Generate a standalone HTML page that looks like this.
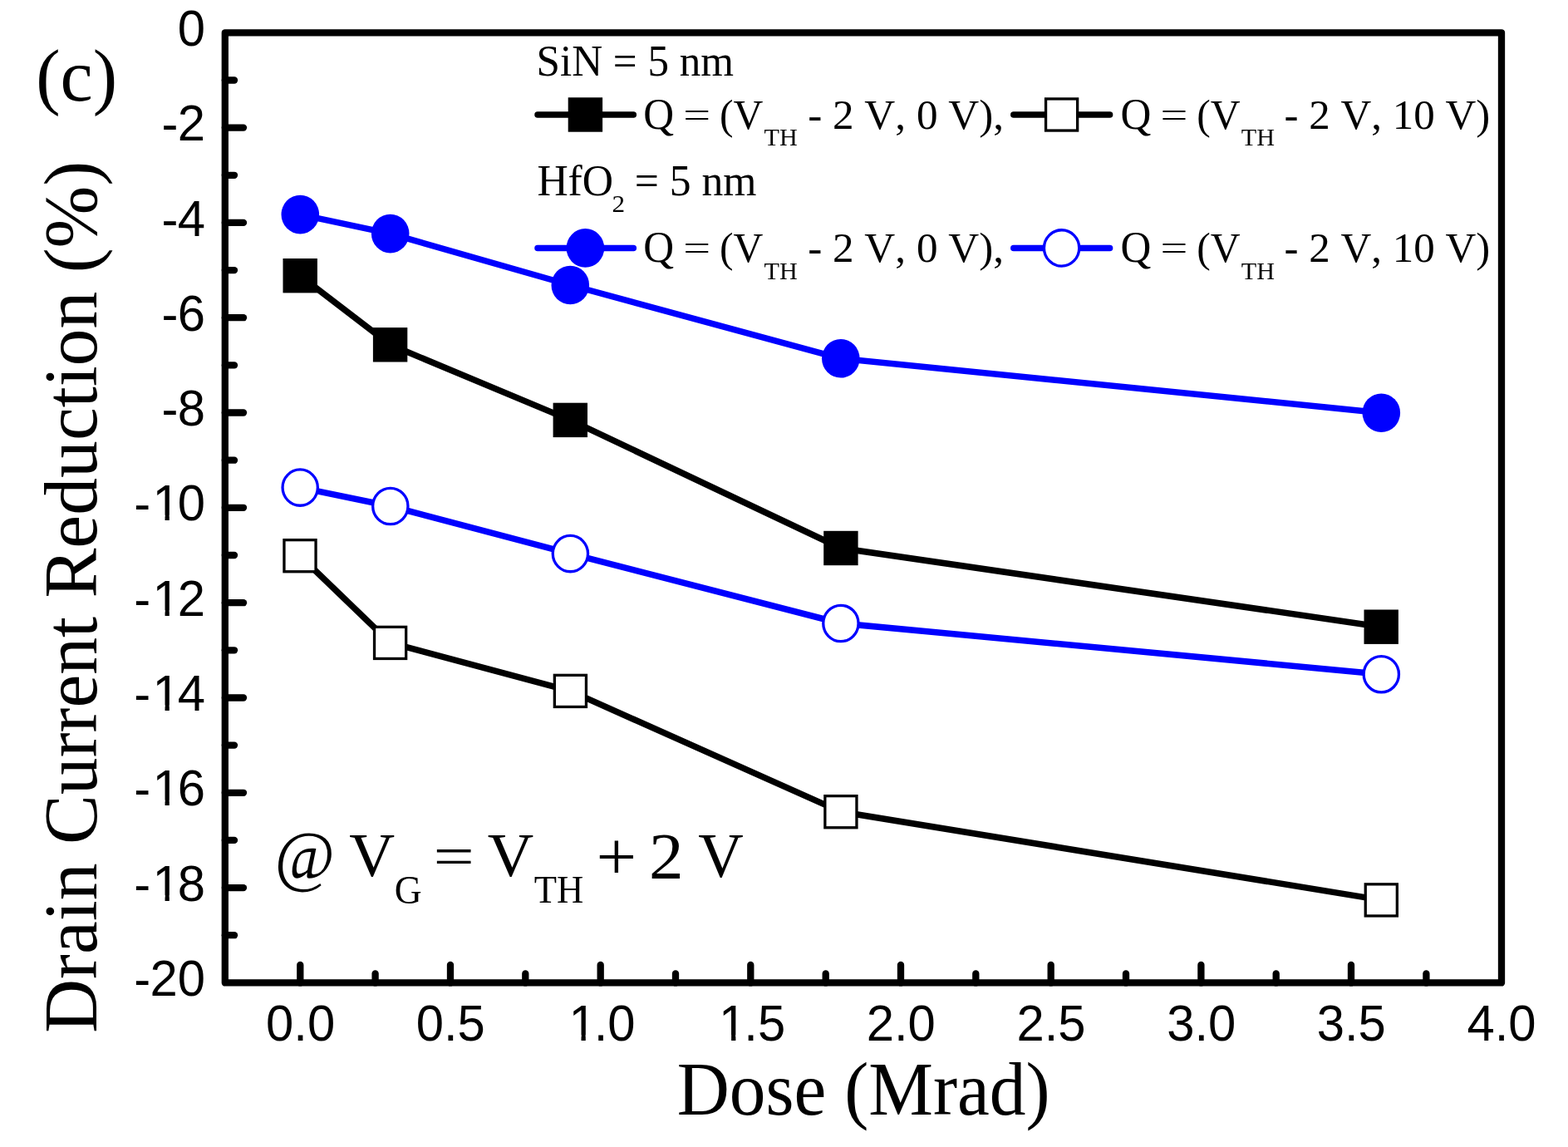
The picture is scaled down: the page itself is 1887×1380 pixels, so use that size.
<!DOCTYPE html>
<html lang="en"><head><meta charset="utf-8"><title>Drain Current Reduction vs Dose</title>
<style>html,body{margin:0;padding:0;background:#fff;}body{width:1887px;height:1380px;overflow:hidden;}svg{display:block;}.sans{font-family:"Liberation Sans",sans-serif;}.serif{font-family:"Liberation Serif",serif;}text{fill:#000;white-space:pre;font-kerning:none;}</style></head><body>
<svg width="1887" height="1380" viewBox="0 0 1887 1380" role="img" aria-label="Drain Current Reduction (%) versus Dose (Mrad)">
<rect x="0" y="0" width="1887" height="1380" fill="#ffffff"/>
<g>
<polyline fill="none" stroke="#000000" stroke-width="7.5" stroke-linejoin="round" points="361.2,331.7 469.6,414.8 686.3,505.4 1011.9,659.5 1662.2,754.2"/>
<rect x="340.5" y="311.0" width="41.4" height="41.4" fill="#000000"/>
<rect x="448.9" y="394.1" width="41.4" height="41.4" fill="#000000"/>
<rect x="665.6" y="484.7" width="41.4" height="41.4" fill="#000000"/>
<rect x="991.2" y="638.8" width="41.4" height="41.4" fill="#000000"/>
<rect x="1641.5" y="733.5" width="41.4" height="41.4" fill="#000000"/>
</g>
<g>
<polyline fill="none" stroke="#000000" stroke-width="7.5" stroke-linejoin="round" points="361.0,668.7 469.6,773.4 686.4,831.4 1011.9,976.7 1662.3,1082.9"/>
<rect x="341.95" y="649.65" width="38.10" height="38.10" fill="#fff" stroke="#000000" stroke-width="3.3"/>
<rect x="450.55" y="754.35" width="38.10" height="38.10" fill="#fff" stroke="#000000" stroke-width="3.3"/>
<rect x="667.35" y="812.35" width="38.10" height="38.10" fill="#fff" stroke="#000000" stroke-width="3.3"/>
<rect x="992.85" y="957.65" width="38.10" height="38.10" fill="#fff" stroke="#000000" stroke-width="3.3"/>
<rect x="1643.25" y="1063.85" width="38.10" height="38.10" fill="#fff" stroke="#000000" stroke-width="3.3"/>
</g>
<g>
<polyline fill="none" stroke="#0000ff" stroke-width="7.5" stroke-linejoin="round" points="361.3,258.1 469.7,281.1 686.3,343.0 1011.8,431.3 1662.3,496.7"/>
<ellipse cx="361.3" cy="258.1" rx="22.8" ry="23.3" fill="#0000ff"/>
<ellipse cx="469.7" cy="281.1" rx="22.8" ry="23.3" fill="#0000ff"/>
<ellipse cx="686.3" cy="343.0" rx="22.8" ry="23.3" fill="#0000ff"/>
<ellipse cx="1011.8" cy="431.3" rx="22.8" ry="23.3" fill="#0000ff"/>
<ellipse cx="1662.3" cy="496.7" rx="22.8" ry="23.3" fill="#0000ff"/>
</g>
<g>
<polyline fill="none" stroke="#0000ff" stroke-width="7.5" stroke-linejoin="round" points="361.2,586.6 469.8,609.0 686.4,666.1 1011.9,750.0 1662.3,811.2"/>
<ellipse cx="361.2" cy="586.6" rx="21.15" ry="21.65" fill="#fff" stroke="#0000ff" stroke-width="3.3"/>
<ellipse cx="469.8" cy="609.0" rx="21.15" ry="21.65" fill="#fff" stroke="#0000ff" stroke-width="3.3"/>
<ellipse cx="686.4" cy="666.1" rx="21.15" ry="21.65" fill="#fff" stroke="#0000ff" stroke-width="3.3"/>
<ellipse cx="1011.9" cy="750.0" rx="21.15" ry="21.65" fill="#fff" stroke="#0000ff" stroke-width="3.3"/>
<ellipse cx="1662.3" cy="811.2" rx="21.15" ry="21.65" fill="#fff" stroke="#0000ff" stroke-width="3.3"/>
</g>
<g stroke="#000" stroke-width="8.3" stroke-linecap="round" fill="none">
<rect x="270.8" y="39.3" width="1536.20" height="1143.15" stroke-linejoin="round"/>
<line x1="270.8" y1="96.5" x2="282.0" y2="96.5"/>
<line x1="270.8" y1="153.6" x2="293.0" y2="153.6"/>
<line x1="270.8" y1="210.8" x2="282.0" y2="210.8"/>
<line x1="270.8" y1="267.9" x2="293.0" y2="267.9"/>
<line x1="270.8" y1="325.1" x2="282.0" y2="325.1"/>
<line x1="270.8" y1="382.2" x2="293.0" y2="382.2"/>
<line x1="270.8" y1="439.4" x2="282.0" y2="439.4"/>
<line x1="270.8" y1="496.5" x2="293.0" y2="496.5"/>
<line x1="270.8" y1="553.7" x2="282.0" y2="553.7"/>
<line x1="270.8" y1="610.8" x2="293.0" y2="610.8"/>
<line x1="270.8" y1="668.0" x2="282.0" y2="668.0"/>
<line x1="270.8" y1="725.2" x2="293.0" y2="725.2"/>
<line x1="270.8" y1="782.3" x2="282.0" y2="782.3"/>
<line x1="270.8" y1="839.5" x2="293.0" y2="839.5"/>
<line x1="270.8" y1="896.6" x2="282.0" y2="896.6"/>
<line x1="270.8" y1="953.8" x2="293.0" y2="953.8"/>
<line x1="270.8" y1="1010.9" x2="282.0" y2="1010.9"/>
<line x1="270.8" y1="1068.1" x2="293.0" y2="1068.1"/>
<line x1="270.8" y1="1125.2" x2="282.0" y2="1125.2"/>
<line x1="361.3" y1="1182.45" x2="361.3" y2="1160.9"/>
<line x1="451.6" y1="1182.45" x2="451.6" y2="1171.4"/>
<line x1="542.0" y1="1182.45" x2="542.0" y2="1160.9"/>
<line x1="632.3" y1="1182.45" x2="632.3" y2="1171.4"/>
<line x1="722.7" y1="1182.45" x2="722.7" y2="1160.9"/>
<line x1="813.0" y1="1182.45" x2="813.0" y2="1171.4"/>
<line x1="903.3" y1="1182.45" x2="903.3" y2="1160.9"/>
<line x1="993.7" y1="1182.45" x2="993.7" y2="1171.4"/>
<line x1="1084.0" y1="1182.45" x2="1084.0" y2="1160.9"/>
<line x1="1174.3" y1="1182.45" x2="1174.3" y2="1171.4"/>
<line x1="1264.7" y1="1182.45" x2="1264.7" y2="1160.9"/>
<line x1="1355.0" y1="1182.45" x2="1355.0" y2="1171.4"/>
<line x1="1445.4" y1="1182.45" x2="1445.4" y2="1160.9"/>
<line x1="1535.7" y1="1182.45" x2="1535.7" y2="1171.4"/>
<line x1="1626.0" y1="1182.45" x2="1626.0" y2="1160.9"/>
<line x1="1716.4" y1="1182.45" x2="1716.4" y2="1171.4"/>
</g>
<g class="sans" font-size="60">
<g transform="translate(247.0 54.8) scale(0.997 1.016)"><text x="-33.37" y="0">0</text></g>
<g transform="translate(247.0 169.2) scale(0.997 1.016)"><text x="-52.55 -33.37" y="1 0">-2</text></g>
<g transform="translate(247.0 283.5) scale(0.997 1.016)"><text x="-52.55 -33.37" y="1 0">-4</text></g>
<g transform="translate(247.0 397.8) scale(0.997 1.016)"><text x="-52.55 -33.37" y="1 0">-6</text></g>
<g transform="translate(247.0 512.1) scale(0.997 1.016)"><text x="-52.55 -33.37" y="1 0">-8</text></g>
<g transform="translate(247.0 626.4) scale(0.997 1.016)"><text x="-85.92 -63.74 -33.37" y="1 0 0">-10</text><rect x="-59.84" y="-6.6" width="11.25" height="7.6" fill="#fff"/><rect x="-43.34" y="-6.6" width="10.80" height="7.6" fill="#fff"/></g>
<g transform="translate(247.0 740.7) scale(0.997 1.016)"><text x="-85.92 -63.74 -33.37" y="1 0 0">-12</text><rect x="-59.84" y="-6.6" width="11.25" height="7.6" fill="#fff"/><rect x="-43.34" y="-6.6" width="10.80" height="7.6" fill="#fff"/></g>
<g transform="translate(247.0 855.0) scale(0.997 1.016)"><text x="-85.92 -63.74 -33.37" y="1 0 0">-14</text><rect x="-59.84" y="-6.6" width="11.25" height="7.6" fill="#fff"/><rect x="-43.34" y="-6.6" width="10.80" height="7.6" fill="#fff"/></g>
<g transform="translate(247.0 969.3) scale(0.997 1.016)"><text x="-85.92 -63.74 -33.37" y="1 0 0">-16</text><rect x="-59.84" y="-6.6" width="11.25" height="7.6" fill="#fff"/><rect x="-43.34" y="-6.6" width="10.80" height="7.6" fill="#fff"/></g>
<g transform="translate(247.0 1083.6) scale(0.997 1.016)"><text x="-85.92 -63.74 -33.37" y="1 0 0">-18</text><rect x="-59.84" y="-6.6" width="11.25" height="7.6" fill="#fff"/><rect x="-43.34" y="-6.6" width="10.80" height="7.6" fill="#fff"/></g>
<g transform="translate(247.0 1197.9) scale(0.997 1.016)"><text x="-85.92 -66.74 -33.37" y="1 0 0">-20</text></g>
<g transform="translate(361.6 1251.8) scale(0.997 1.016)"><text x="-41.70 -8.33 8.33" y="0 0 0">0.0</text></g>
<g transform="translate(542.3 1251.8) scale(0.997 1.016)"><text x="-41.70 -8.33 8.33" y="0 0 0">0.5</text></g>
<g transform="translate(723.0 1251.8) scale(0.997 1.016)"><text x="-38.70 -8.33 8.33" y="0 0 0">1.0</text><rect x="-34.80" y="-6.6" width="11.25" height="7.6" fill="#fff"/><rect x="-18.30" y="-6.6" width="10.80" height="7.6" fill="#fff"/></g>
<g transform="translate(903.6 1251.8) scale(0.997 1.016)"><text x="-38.70 -8.33 8.33" y="0 0 0">1.5</text><rect x="-34.80" y="-6.6" width="11.25" height="7.6" fill="#fff"/><rect x="-18.30" y="-6.6" width="10.80" height="7.6" fill="#fff"/></g>
<g transform="translate(1084.3 1251.8) scale(0.997 1.016)"><text x="-41.70 -8.33 8.33" y="0 0 0">2.0</text></g>
<g transform="translate(1265.0 1251.8) scale(0.997 1.016)"><text x="-41.70 -8.33 8.33" y="0 0 0">2.5</text></g>
<g transform="translate(1445.7 1251.8) scale(0.997 1.016)"><text x="-41.70 -8.33 8.33" y="0 0 0">3.0</text></g>
<g transform="translate(1626.3 1251.8) scale(0.997 1.016)"><text x="-41.70 -8.33 8.33" y="0 0 0">3.5</text></g>
<g transform="translate(1807.0 1251.8) scale(0.997 1.016)"><text x="-41.70 -8.33 8.33" y="0 0 0">4.0</text></g>
</g>
<text class="serif" font-size="90" transform="translate(814.77 1340.90) scale(0.9708 1.0200)">Dose (Mrad)</text>
<text class="serif" font-size="90" transform="translate(54.6 1240.7) rotate(-90) translate(-2.09 61.00) scale(0.9971 1.0200)">Drain Current Reduction (%)</text>
<text class="serif" font-size="90" transform="translate(43.28 121.00) scale(0.9793 0.9895)">(c)</text>
<g>
<text class="serif" font-size="75" transform="translate(330.72 1056.69) scale(1.0459 1.0957)">@</text> <text class="serif" font-size="75" transform="translate(420.34 1054.45) scale(1.0133 0.9960)">V</text><text class="serif" font-size="44" transform="translate(474.79 1086.74) scale(1.0365 1.1119)">G</text> <text class="serif" font-size="75" transform="translate(521.53 1052.51) scale(1.1657 0.8907)">=</text> <text class="serif" font-size="75" transform="translate(586.73 1054.45) scale(1.0248 0.9960)">V</text><text class="serif" font-size="44" transform="translate(642.84 1085.80) scale(1.0142 1.0365)">TH</text> <text class="serif" font-size="75" transform="translate(717.58 1057.99) scale(1.1514 1.1057)">+</text> <text class="serif" font-size="75" transform="translate(780.89 1055.70) scale(1.1100 1.0412)">2</text> <text class="serif" font-size="75" transform="translate(840.35 1054.94) scale(1.0057 1.0059)">V</text>
</g>
<g>
<text class="serif" font-size="51" transform="translate(645.54 90.80) scale(1.0021 1.0300)">SiN = 5 nm</text>
<text class="serif" font-size="51" transform="translate(646.38 235.20) scale(1.0115 1.0300)">HfO</text><text class="serif" font-size="28" transform="translate(736.51 255.40) scale(1.1111 1.0649)">2</text> <text class="serif" font-size="51" transform="translate(763.67 235.10) scale(1.0134 1.0250)">= 5 nm</text>
<line x1="647.0" y1="138.0" x2="762.3" y2="138.0" stroke="#000000" stroke-width="7.5" stroke-linecap="round"/>
<rect x="683.7" y="117.3" width="41.4" height="41.4" fill="#000000"/>
<text class="serif" font-size="52.5" transform="translate(774.21 154.99) scale(0.9727 1.0243)">Q</text> <text class="serif" font-size="52.5" transform="translate(822.22 151.78) scale(1.1102 0.8077)">=</text> <text class="serif" font-size="52.5" transform="translate(865.97 154.60) scale(0.9467 0.9850)">(V</text><text class="serif" font-size="30" transform="translate(919.60 175.30) scale(1.0052 1.0051)">TH</text> <text class="serif" font-size="52.5" transform="translate(972.15 154.60) scale(0.9749 0.9850)">- 2 V, 0 V),</text>
<line x1="1219.8" y1="138.0" x2="1335.6" y2="138.0" stroke="#000000" stroke-width="7.5" stroke-linecap="round"/>
<rect x="1258.55" y="118.95" width="38.10" height="38.10" fill="#fff" stroke="#000000" stroke-width="3.3"/>
<text class="serif" font-size="52.5" transform="translate(1348.41 154.99) scale(0.9727 1.0243)">Q</text> <text class="serif" font-size="52.5" transform="translate(1396.42 151.78) scale(1.1102 0.8077)">=</text> <text class="serif" font-size="52.5" transform="translate(1440.17 154.60) scale(0.9467 0.9850)">(V</text><text class="serif" font-size="30" transform="translate(1493.80 175.30) scale(1.0052 1.0051)">TH</text> <text class="serif" font-size="52.5" transform="translate(1545.46 154.60) scale(0.9711 0.9850)">- 2 V, 10 V)</text>
<line x1="647.0" y1="298.4" x2="762.3" y2="298.4" stroke="#0000ff" stroke-width="7.5" stroke-linecap="round"/>
<ellipse cx="704.4" cy="298.4" rx="22.8" ry="23.3" fill="#0000ff"/>
<text class="serif" font-size="52.5" transform="translate(774.21 315.39) scale(0.9727 1.0243)">Q</text> <text class="serif" font-size="52.5" transform="translate(822.22 312.18) scale(1.1102 0.8077)">=</text> <text class="serif" font-size="52.5" transform="translate(865.97 315.00) scale(0.9467 0.9850)">(V</text><text class="serif" font-size="30" transform="translate(919.60 335.70) scale(1.0052 1.0051)">TH</text> <text class="serif" font-size="52.5" transform="translate(972.15 315.00) scale(0.9749 0.9850)">- 2 V, 0 V),</text>
<line x1="1219.8" y1="298.4" x2="1335.6" y2="298.4" stroke="#0000ff" stroke-width="7.5" stroke-linecap="round"/>
<ellipse cx="1277.6" cy="298.4" rx="21.15" ry="21.65" fill="#fff" stroke="#0000ff" stroke-width="3.3"/>
<text class="serif" font-size="52.5" transform="translate(1348.41 315.39) scale(0.9727 1.0243)">Q</text> <text class="serif" font-size="52.5" transform="translate(1396.42 312.18) scale(1.1102 0.8077)">=</text> <text class="serif" font-size="52.5" transform="translate(1440.17 315.00) scale(0.9467 0.9850)">(V</text><text class="serif" font-size="30" transform="translate(1493.80 335.70) scale(1.0052 1.0051)">TH</text> <text class="serif" font-size="52.5" transform="translate(1545.46 315.00) scale(0.9711 0.9850)">- 2 V, 10 V)</text>
</g>
</svg>
</body></html>
